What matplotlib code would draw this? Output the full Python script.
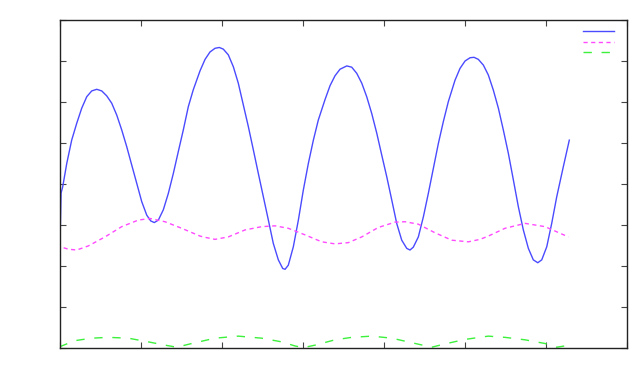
import matplotlib
matplotlib.use("Agg")
import matplotlib.pyplot as plt

# values
blue_x = [0.0, 0.019, 0.039, 0.089, 0.150, 0.212, 0.274, 0.336, 0.397, 0.459, 0.521, 0.582,
          0.644, 0.706, 0.767, 0.829, 0.891, 0.952, 1.014, 1.076, 1.125, 1.169, 1.219, 1.280,
          1.342, 1.404, 1.465, 1.527, 1.589, 1.650, 1.733, 1.795, 1.856, 1.918, 1.971, 2.020,
          2.082, 2.144, 2.205, 2.267, 2.329, 2.391, 2.452, 2.514, 2.576, 2.637, 2.699, 2.753,
          2.782, 2.822, 2.884, 2.946, 3.007, 3.069, 3.131, 3.192, 3.275, 3.337, 3.398, 3.460,
          3.543, 3.604, 3.666, 3.728, 3.789, 3.851, 3.913, 3.974, 4.036, 4.098, 4.159, 4.221,
          4.283, 4.323, 4.364, 4.426, 4.488, 4.549, 4.611, 4.673, 4.734, 4.796, 4.878, 4.940,
          5.002, 5.064, 5.113, 5.166, 5.228, 5.289, 5.351, 5.413, 5.474, 5.536, 5.598, 5.659,
          5.721, 5.783, 5.844, 5.899, 5.948, 6.010, 6.071, 6.133, 6.214, 6.288]
blue_y = [1.98, 3.78, 3.93, 4.50, 5.07, 5.48, 5.85, 6.13, 6.27, 6.31, 6.27, 6.15,
          5.97, 5.68, 5.32, 4.91, 4.46, 4.02, 3.57, 3.24, 3.10, 3.06, 3.12, 3.37,
          3.77, 4.26, 4.79, 5.32, 5.89, 6.30, 6.76, 7.04, 7.22, 7.31, 7.33, 7.29,
          7.15, 6.86, 6.46, 5.93, 5.40, 4.83, 4.26, 3.69, 3.12, 2.55, 2.15, 1.94,
          1.92, 2.02, 2.47, 3.12, 3.85, 4.50, 5.07, 5.56, 6.06, 6.40, 6.64, 6.80,
          6.88, 6.85, 6.70, 6.46, 6.13, 5.72, 5.24, 4.71, 4.18, 3.61, 3.04, 2.63,
          2.43, 2.39, 2.46, 2.71, 3.20, 3.77, 4.38, 4.99, 5.52, 6.01, 6.53, 6.82,
          7.00, 7.08, 7.09, 7.04, 6.90, 6.66, 6.29, 5.85, 5.32, 4.75, 4.10, 3.45,
          2.88, 2.43, 2.15, 2.08, 2.15, 2.47, 3.04, 3.69, 4.42, 5.07]

pink_x = [0.0, 0.01, 0.109, 0.212, 0.355, 0.561, 0.767, 0.972, 1.116, 1.301, 1.507, 1.733,
          1.795, 1.918, 2.082, 2.288, 2.494, 2.658, 2.822, 3.028, 3.234, 3.398, 3.562, 3.728,
          3.932, 4.138, 4.262, 4.426, 4.632, 4.838, 5.043, 5.187, 5.289, 5.495, 5.742, 5.989,
          6.276]
pink_y = [1.25, 2.47, 2.41, 2.39, 2.49, 2.71, 2.96, 3.12, 3.16, 3.08, 2.92, 2.73,
          2.70, 2.65, 2.71, 2.88, 2.96, 2.98, 2.92, 2.76, 2.59, 2.54, 2.57, 2.71,
          2.94, 3.07, 3.08, 3.02, 2.81, 2.63, 2.59, 2.65, 2.73, 2.92, 3.04, 2.96,
          2.71]

green_x = [0.0, 0.191, 0.397, 0.602, 0.849, 1.095, 1.301, 1.446, 1.631, 1.918, 2.205, 2.494,
           2.741, 2.905, 3.007, 3.152, 3.398, 3.604, 3.851, 4.098, 4.344, 4.591, 4.755, 5.002,
           5.289, 5.495, 5.742, 5.989, 6.133, 6.297]
green_y = [0.03, 0.18, 0.24, 0.26, 0.24, 0.15, 0.07, 0.02, 0.11, 0.24, 0.29, 0.24,
           0.15, 0.05, 0.01, 0.07, 0.20, 0.26, 0.29, 0.24, 0.13, 0.02, 0.10, 0.21,
           0.29, 0.26, 0.20, 0.11, 0.02, 0.07]

x_ticks = range(0, 8)
y_ticks = range(0, 9)

fig = plt.figure(figsize=(6.38, 3.84), dpi=100)
ax = fig.add_axes([0.0933, 0.0937, 0.8895, 0.8542])

l1, = ax.plot(blue_x, blue_y, color='#4a4aff', lw=1.0)
l2, = ax.plot(pink_x, pink_y, color='#ff4aff', lw=1.0, dashes=(3, 2.5))
l3, = ax.plot(green_x, green_y, color='#3cf03c', lw=1.0, dashes=(6, 7))

ax.set_xlim(0, 7)
ax.set_ylim(0, 8)
ax.set_xticks(list(x_ticks))
ax.set_yticks(list(y_ticks))
ax.set_xticklabels([])
ax.set_yticklabels([])
ax.tick_params(direction='in', length=4.5, width=0.8, color='#444444',
               top=True, right=True)
for s in ax.spines.values():
    s.set_linewidth(1.0)
    s.set_color('#222222')

# legend entries have no text in the original
ax.legend([l1, l2, l3], ['', '', ''], loc='upper right', frameon=False,
          bbox_to_anchor=(0.977, 0.979), fontsize=7, handlelength=3.2,
          handletextpad=0, borderpad=0, borderaxespad=0, labelspacing=0.05)

fig.savefig('out.png', dpi=100)
